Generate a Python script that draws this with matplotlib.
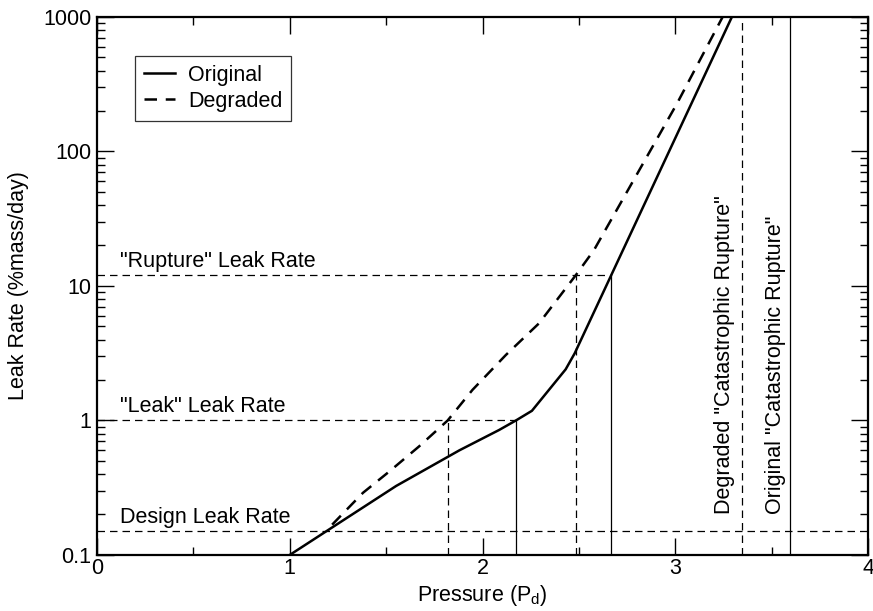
import numpy as np
import matplotlib
matplotlib.use('Agg')
import matplotlib.pyplot as plt
import matplotlib.transforms as mtransforms
from matplotlib.ticker import FixedLocator, LogLocator, NullFormatter, MultipleLocator

plt.rcParams['font.family'] = ['Liberation Sans', 'DejaVu Sans']

# curve data
orig_p = [1.0, 1.552, 1.88, 2.086, 2.173, 2.256, 2.431, 2.478, 2.667, 3.293]
orig_rate = [0.1, 0.326, 0.60, 0.85, 1.0, 1.18, 2.40, 3.16, 12.0, 1000]
degr_p = [1.22, 1.38, 1.515, 1.67, 1.819, 1.948, 2.121, 2.293, 2.483, 2.578, 3.009, 3.245]
degr_rate = [0.168, 0.29, 0.416, 0.64, 1.0, 1.69, 3.07, 5.28, 12.0, 18.5, 228, 1000]

# reference levels
design_rate = 0.15
leak_rate = 1.0
rupture_rate = 12.0
leak_p = {'Original': 2.173, 'Degraded': 1.819}
rupture_p = {'Original': 2.667, 'Degraded': 2.483}
catastrophic_p = {'Original': 3.592, 'Degraded': 3.345}

fig = plt.figure(figsize=(8.73, 6.11), dpi=100)
ax = fig.add_axes([0.111, 0.0917, 0.8835, 0.8805])

ax.set_yscale('log')
ax.set_xlim(0, 4)
ax.set_ylim(0.1, 1000)

# curves
ax.plot(orig_p, orig_rate, '-', color='black', lw=1.8, label='Original')
ax.plot(degr_p, degr_rate, '--', color='black', lw=1.8, dashes=(5, 3.5), label='Degraded')

thin = dict(color='black', lw=0.9)
dsh = (6, 4)

# horizontal reference lines
ax.plot([0, 4], [design_rate, design_rate], '--', dashes=dsh, **thin)
ax.plot([0, leak_p['Original']], [leak_rate, leak_rate], '--', dashes=dsh, **thin)
ax.plot([0, rupture_p['Original']], [rupture_rate, rupture_rate], '--', dashes=dsh, **thin)

# vertical reference lines
ax.plot([leak_p['Original']] * 2, [0.1, leak_rate], '-', **thin)
ax.plot([leak_p['Degraded']] * 2, [0.1, leak_rate], '--', dashes=dsh, **thin)
ax.plot([rupture_p['Original']] * 2, [0.1, rupture_rate], '-', **thin)
ax.plot([rupture_p['Degraded']] * 2, [0.1, rupture_rate], '--', dashes=dsh, **thin)
ax.plot([catastrophic_p['Original']] * 2, [0.1, 1000], '-', **thin)
ax.plot([catastrophic_p['Degraded']] * 2, [0.1, 1000], '--', dashes=dsh, **thin)

fs = 15.5
ax.text(0.12, design_rate * 1.06, 'Design Leak Rate', fontsize=fs, va='bottom')
ax.text(0.12, leak_rate * 1.06, '"Leak" Leak Rate', fontsize=fs, va='bottom')
ax.text(0.12, rupture_rate * 1.06, '"Rupture" Leak Rate', fontsize=fs, va='bottom')
ax.text(3.256, 0.2, 'Degraded "Catastrophic Rupture"',
        rotation=90, fontsize=fs, ha='center', va='bottom')
ax.text(3.517, 0.2, 'Original "Catastrophic Rupture"',
        rotation=90, fontsize=fs, ha='center', va='bottom')

ax.set_xlabel('Pressure (P$_\\mathregular{d}$)', fontsize=fs, labelpad=3)
ax.set_ylabel('Leak Rate (%mass/day)', fontsize=fs, labelpad=10)

ax.xaxis.set_major_locator(MultipleLocator(1))
ax.xaxis.set_minor_locator(MultipleLocator(0.5))
ax.yaxis.set_major_locator(FixedLocator([0.1, 1, 10, 100, 1000]))
ax.yaxis.set_minor_locator(LogLocator(base=10, subs=np.arange(2, 10)))
ax.yaxis.set_minor_formatter(NullFormatter())
ax.set_yticklabels(['0.1', '1', '10', '100', '1000'])

ax.tick_params(which='both', direction='in', top=True, right=True, labelsize=fs, width=1)
ax.tick_params(which='major', length=12)
ax.tick_params(axis='x', which='major', pad=2)
ax.tick_params(axis='y', which='major', pad=4)
ax.tick_params(which='minor', length=6)
for s in ax.spines.values():
    s.set_linewidth(1.6)

# keep the last x label inside the figure
fig.canvas.draw()
last = ax.get_xticklabels()[-1]
last.set_transform(last.get_transform() +
                   mtransforms.ScaledTranslation(-4 / 100, 0, fig.dpi_scale_trans))

leg = ax.legend(loc='upper left', bbox_to_anchor=(0.05, 0.9275), fontsize=fs,
                frameon=True, fancybox=False, edgecolor='black', handlelength=1.45,
                handletextpad=0.6, borderpad=0.4, labelspacing=0.25, borderaxespad=0)
leg.get_frame().set_linewidth(0.9)

fig.savefig('out.png', dpi=100)
